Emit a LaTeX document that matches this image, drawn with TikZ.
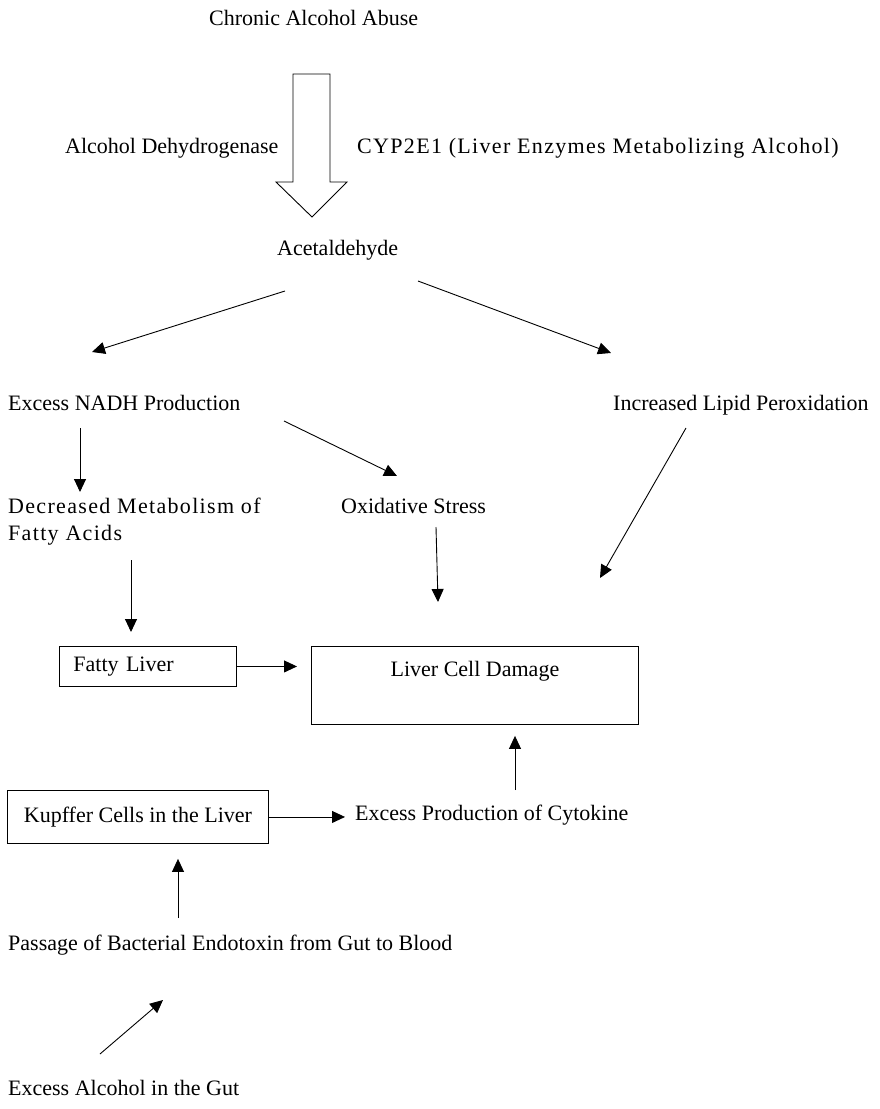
\documentclass[tikz,border=0pt]{standalone}
\usepackage{fontspec}
\setmainfont{Liberation Serif}
\usepackage{tikz}
\usetikzlibrary{arrows.meta, positioning, calc}

\begin{document}
\begin{tikzpicture}[
    x=1pt, y=-1pt,
    txt/.style={inner sep=0pt, anchor=base west, font=\fontsize{22}{27}\selectfont},
    wide/.style={font=\fontsize{22}{27}\selectfont\addfontfeatures{LetterSpace=6}},
    box/.style={draw, rectangle, line width=0.9pt, inner sep=0pt, anchor=north west, font=\fontsize{22}{27}\selectfont},
    arrow/.style={-{Triangle[length=13pt, width=12pt]}, line width=0.9pt}
]
\useasboundingbox (0,0) rectangle (879,1109);

\node[txt] (abuse) at (209,25) {Chronic Alcohol Abuse};
\node[txt] (adh) at (65,153) {Alcohol Dehydrogenase};
\node[txt, wide] (cyp) at (357,153) {CYP2E1 (Liver Enzymes Metabolizing Alcohol)};
\node[txt] (acet) at (277,255) {Acetaldehyde};
\node[txt] (nadh) at (8,410) {Excess NADH Production};
\node[txt] (lipid) at (613,410) {Increased Lipid Peroxidation};
\node[txt, wide, anchor=north west, align=left] (dec) at (8,498) {Decreased Metabolism of\\Fatty Acids};
\node[txt] (oxid) at (341,513) {Oxidative Stress};
\node[box, minimum width=177pt, minimum height=40pt, text width=149pt, align=left] (fatty) at (59,646) {Fatty Liver};
\node[box, minimum width=327pt, minimum height=78pt] (damage) at (311,646) {};
\node[txt, anchor=base] (damagetxt) at ([shift={(0,30)}]damage.north) {Liver Cell Damage};
\node[box, minimum width=261pt, minimum height=53pt] (kupffer) at (7,790) {Kupffer Cells in the Liver};
\node[txt] (cyto) at (355,820) {Excess Production of Cytokine};
\node[txt] (passage) at (8,950) {Passage of Bacterial Endotoxin from Gut to Blood};
\node[txt] (gut) at (8,1095) {Excess Alcohol in the Gut};

% hollow block arrow for the enzymes
\draw[line width=0.9pt] (293,74) -- (330,74) -- (330,182) -- (347,182) -- (312,217)
    -- (276,182) -- (293,182) -- cycle;

\draw[arrow] ([shift={(8,36)}]acet.base west) -- ([shift={(84,-58)}]nadh.base west);
\draw[arrow] ([shift={(141,26)}]acet.base west) -- ([shift={(-2,-57)}]lipid.base west);
\draw[arrow] ([shift={(72,18)}]nadh.base west) -- ([shift={(72,-6)}]dec.north west);
\draw[arrow] ([shift={(276,11)}]nadh.base west) -- ([shift={(56,-37)}]oxid.base west);
\draw[arrow] ([shift={(123,62)}]dec.north west) -- ([shift={(72,-14)}]fatty.north west);
\draw[arrow] ([shift={(95,14)}]oxid.base west) -- ([shift={(127,-44)}]damage.north west);
\draw[arrow] ([shift={(73,18)}]lipid.base west) -- ([shift={(289,-68)}]damage.north west);
\draw[arrow, shorten >=14pt] (fatty.east) -- (fatty.east -| damage.west);
\draw[arrow] ([shift={(160,-30)}]cyto.base west) -- ([shift={(204,11)}]damage.south west);
\draw[arrow, shorten >=10pt] (kupffer.east) -- (kupffer.east -| cyto.west);
\draw[arrow] ([shift={(170,-32)}]passage.base west) -- ([shift={(171,15)}]kupffer.south west);
\draw[arrow] ([shift={(92,-41)}]gut.base west) -- ([shift={(155,50)}]passage.base west);

\end{tikzpicture}
\end{document}
